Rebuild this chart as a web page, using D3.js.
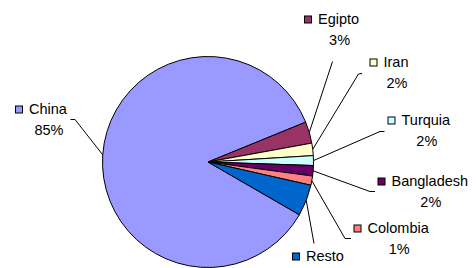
<!DOCTYPE html>
<html>
<head>
<meta charset="utf-8">
<script src="https://cdn.jsdelivr.net/npm/d3@7"></script>
<style>
  html, body { margin: 0; padding: 0; background: #fff; }
  svg { display: block; }
  text { font-family: "Liberation Sans", Arial, sans-serif; font-size: 14.5px; fill: #000; }
</style>
</head>
<body>
<svg id="chart" width="476" height="268"></svg>
<script>
// ---- data ----
const categories = ["China", "Egipto", "Iran", "Turquia", "Bangladesh", "Colombia", "Resto"];
const values     = [85.5, 3.3, 1.9, 1.5, 1.6, 1.4, 4.8];
const pctLabels  = ["85%", "3%", "2%", "2%", "2%", "1%", ""];
const colors     = ["#9999FF", "#993366", "#FFFFCC", "#CCFFFF", "#660066", "#FF8080", "#0066CC"];

// ---- layout (label boxes & leader elbows) ----
const labelKeyX   = [15, 304, 369.5, 387.5, 377.5, 353.5, 292];
const labelBaseY  = [113.5, 23.5, 66.5, 124.5, 185.5, 232.5, 260.5];
const leaderPts   = [
  [[75, 119.5], [70.5, 119.5]],
  [[332.5, 61.5]],
  [[358.5, 74], [362, 73.5]],
  [[380, 131.5], [384.5, 131.5]],
  [[370, 191.5], [375, 191.5]],
  [[345, 238.5], [351, 238.5]],
  [[314, 243.5]]
];

const svg = d3.select("#chart");
const cx = 208, cy = 162, r = 105.5;
const startA = 120 * Math.PI / 180;

const pie = d3.pie().sort(null).value(d => d)
  .startAngle(startA).endAngle(startA + 2 * Math.PI);
const arcs = pie(values);
const arc = d3.arc().innerRadius(0).outerRadius(r);

const g = svg.append("g").attr("transform", `translate(${cx},${cy})`);
g.selectAll("path.slice").data(arcs).enter().append("path")
  .attr("class", "slice")
  .attr("d", arc)
  .attr("fill", (d, i) => colors[i])
  .attr("stroke", "#000")
  .attr("stroke-width", 1)
  .attr("stroke-linejoin", "round");

// leader lines
const line = d3.line();
arcs.forEach((d, i) => {
  const mid = (d.startAngle + d.endAngle) / 2;
  const p0 = [cx + r * Math.sin(mid), cy - r * Math.cos(mid)];
  const pts = [p0].concat(leaderPts[i]);
  svg.append("path")
    .attr("d", line(pts))
    .attr("fill", "none")
    .attr("stroke", "#000")
    .attr("stroke-width", 1);
});

// labels
categories.forEach((c, i) => {
  const kx = labelKeyX[i], by = labelBaseY[i];
  svg.append("rect")
    .attr("x", kx + 0.5).attr("y", by - 8 + 0.5)
    .attr("width", 7).attr("height", 7)
    .attr("fill", colors[i])
    .attr("stroke", "#000").attr("stroke-width", 1);
  const t = svg.append("text")
    .attr("x", kx + 14).attr("y", by)
    .text(c);
  const w = t.node().getComputedTextLength();
  if (pctLabels[i]) {
    svg.append("text")
      .attr("x", kx + 14 + w / 2 + 1).attr("y", by + 21.5)
      .attr("text-anchor", "middle")
      .text(pctLabels[i]);
  }
});
</script>
</body>
</html>
